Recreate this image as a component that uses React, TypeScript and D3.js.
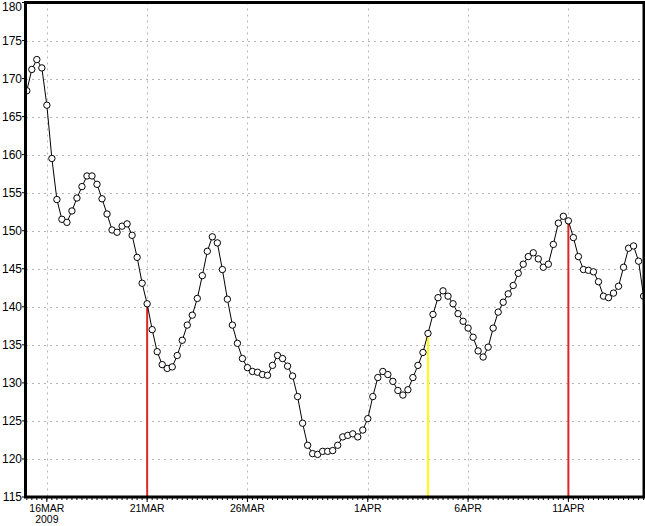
import React from "react";
import * as d3 from "d3";

const START = Date.UTC(2009, 2, 15, 0); // 15 MAR 2009 00Z, 6-hourly series
const STEP_HOURS = 6;

const values: number[] = [
  168.4, 171.2, 172.5, 171.4, 166.5, 159.5, 154.1, 151.5, 151.1, 152.6,
  154.3, 155.8, 157.2, 157.2, 156.1, 154.2, 152.2, 150.1, 149.8, 150.6,
  150.9, 149.4, 146.5, 143.1, 140.4, 137.0, 134.1, 132.4, 131.9, 132.1,
  133.6, 135.6, 137.6, 138.9, 141.1, 144.1, 147.3, 149.2, 148.4, 144.9,
  141.0, 137.6, 135.2, 133.2, 132.0, 131.5, 131.4, 131.1, 131.0, 132.3,
  133.6, 133.2, 132.2, 130.9, 128.2, 124.7, 121.8, 120.7, 120.6, 121.0,
  121.0, 121.1, 121.8, 122.9, 123.1, 123.3, 122.9, 123.8, 125.3, 128.2,
  130.7, 131.5, 131.1, 130.2, 129.0, 128.4, 129.1, 130.7, 132.3, 134.0,
  136.5, 139.0, 141.2, 142.1, 141.4, 140.4, 139.1, 138.1, 137.2, 136.0,
  134.2, 133.4, 134.7, 137.2, 139.3, 140.6, 141.7, 142.8, 144.4, 145.6,
  146.6, 147.1, 146.3, 145.2, 145.6, 148.2, 151.0, 151.9, 151.3, 149.1,
  146.6, 144.9, 144.8, 144.6, 143.3, 141.4, 141.2, 141.8, 142.7, 145.2,
  147.7, 148.0, 146.0, 141.4,
];

const xTickDates = [
  Date.UTC(2009, 2, 16),
  Date.UTC(2009, 2, 21),
  Date.UTC(2009, 2, 26),
  Date.UTC(2009, 3, 1),
  Date.UTC(2009, 3, 6),
  Date.UTC(2009, 3, 11),
];
const xTickLabels = ["16MAR", "21MAR", "26MAR", "1APR", "6APR", "11APR"];
const yearLabel = "2009";
const yTicks = [115, 120, 125, 130, 135, 140, 145, 150, 155, 160, 165, 170, 175, 180];

const markerDates = [Date.UTC(2009, 2, 21), Date.UTC(2009, 3, 4), Date.UTC(2009, 3, 11)];
const markerColors = ["#e02424", "#ffff00", "#e02424"];

const W = 645;
const H = 526;
const L = 26;
const R = 644;
const T = 2.5;
const B = 497;

export default function App() {
  const dates = values.map((_, i) => START + i * STEP_HOURS * 3600 * 1000);
  const x = d3
    .scaleUtc()
    .domain([new Date(dates[0]), new Date(dates[dates.length - 1])])
    .range([26.8, 643.6]);
  const y = d3.scaleLinear().domain([115, 180]).range([B, T]);

  const pts = values.map((v, i) => [x(new Date(dates[i])), y(v)] as [number, number]);
  const line = d3.line()(pts) || "";

  const minorTicks = dates.map((d) => x(new Date(d)));

  const valueAt = (t: number) => {
    const idx = dates.findIndex((d) => d === t);
    return values[idx];
  };

  return (
    <svg
      width={W}
      height={H}
      style={{ position: "absolute", left: 0, top: 0, background: "#fff" }}
      fontFamily="'Liberation Sans', Arial, sans-serif"
    >
      <defs>
        <clipPath id="plot">
          <rect x={L} y={T} width={R - L} height={B - T} />
        </clipPath>
      </defs>
      <rect x={0} y={0} width={W} height={H} fill="#fff" />
      {/* grid */}
      {yTicks.slice(1, -1).map((t) => (
        <line
          key={"gy" + t}
          x1={L}
          x2={R}
          y1={Math.round(y(t)) + 0.5}
          y2={Math.round(y(t)) + 0.5}
          stroke="#b4b4b4"
          strokeWidth={1}
          strokeDasharray="2,4"
        />
      ))}
      {xTickDates.map((d) => (
        <line
          key={"gx" + d}
          x1={Math.round(x(new Date(d))) + 0.5}
          x2={Math.round(x(new Date(d))) + 0.5}
          y1={T}
          y2={B}
          stroke="#b4b4b4"
          strokeWidth={1}
          strokeDasharray="2,4"
        />
      ))}
      {/* event lines */}
      {markerDates.map((d, i) => (
        <line
          key={"m" + d}
          x1={x(new Date(d))}
          x2={x(new Date(d))}
          y1={B}
          y2={y(valueAt(d))}
          stroke={markerColors[i]}
          strokeWidth={2}
        />
      ))}
      <g clipPath="url(#plot)">
        <path d={line} fill="none" stroke="#000" strokeWidth={1} />
        {pts.map((p, i) => (
          <circle key={i} cx={p[0]} cy={p[1]} r={3.2} fill="#fff" stroke="#000" strokeWidth={1} />
        ))}
      </g>
      {/* frame */}
      <rect x={L - 0.5} y={T} width={R - L + 0.5} height={B - T} fill="none" stroke="#000" strokeWidth={3} />
      {/* minor x ticks */}
      {minorTicks.map((mx, i) => (
        <line key={"mt" + i} x1={mx} x2={mx} y1={B} y2={B + 3} stroke="#000" strokeWidth={1} />
      ))}
      {/* major x ticks and labels */}
      {xTickDates.map((d, i) => (
        <g key={"xt" + d} transform={`translate(${x(new Date(d))},0)`}>
          <line y1={B} y2={B + 5} stroke="#000" strokeWidth={1} />
          <text y={512} textAnchor="middle" fontSize={10.5} fill="#000">
            {xTickLabels[i]}
          </text>
          {i === 0 && (
            <text y={523} textAnchor="middle" fontSize={10.5} fill="#000">
              {yearLabel}
            </text>
          )}
        </g>
      ))}
      {/* y ticks and labels */}
      {yTicks.map((t) => (
        <g key={"yt" + t} transform={`translate(0,${y(t)})`}>
          <line x1={L - 4} x2={L} stroke="#000" strokeWidth={1} />
          <text x={22} y={t === 180 ? 4 : 0} dy="0.36em" textAnchor="end" fontSize={12} fill="#000">
            {t}
          </text>
        </g>
      ))}
    </svg>
  );
}
